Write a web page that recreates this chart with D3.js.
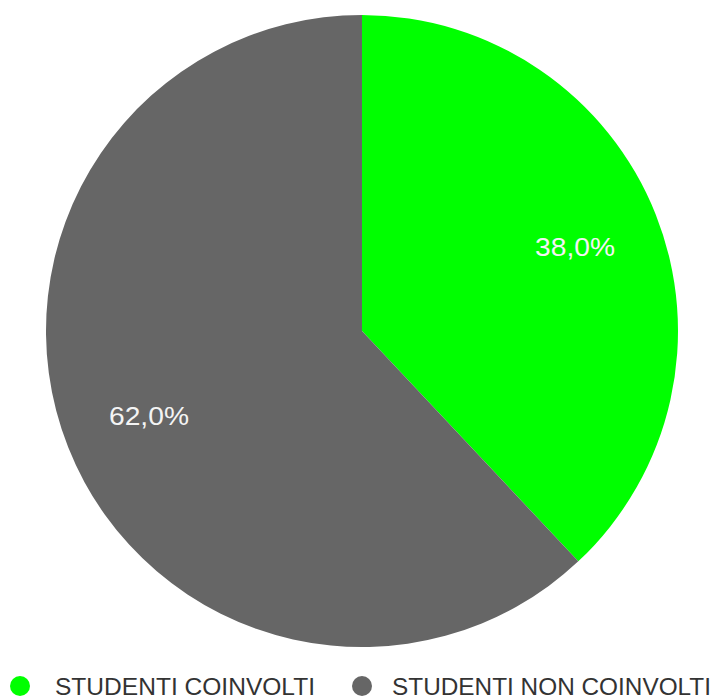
<!DOCTYPE html>
<html>
<head>
<meta charset="utf-8">
<script src="https://cdn.jsdelivr.net/npm/d3@7"></script>
<style>
  html, body { margin: 0; padding: 0; background: #ffffff; }
  svg { display: block; }
</style>
</head>
<body>
<svg id="chart" width="715" height="700"></svg>
<script>
// Share of students involved in the initiative
const categories = ["STUDENTI COINVOLTI", "STUDENTI NON COINVOLTI"];
const values = [38.0, 62.0];
const colors = ["#00ff00", "#666666"];

const svg = d3.select("#chart");
const cx = 362, cy = 331, radius = 316;

const pie = d3.pie().sort(null).value(d => d.value);
const data = categories.map((c, i) => ({ name: c, value: values[i], color: colors[i] }));
const arcs = pie(data);

const arc = d3.arc().innerRadius(0).outerRadius(radius);
const labelArc = d3.arc().innerRadius(radius * 0.725).outerRadius(radius * 0.725);

const g = svg.append("g").attr("transform", `translate(${cx},${cy})`);

g.selectAll("path.slice")
  .data(arcs)
  .join("path")
  .attr("class", "slice")
  .attr("d", arc)
  .attr("fill", d => d.data.color);

const fmt = v => v.toFixed(1).replace(".", ",") + "%";

g.selectAll("text.pct")
  .data(arcs)
  .join("text")
  .attr("class", "pct")
  .attr("transform", d => `translate(${labelArc.centroid(d)})`)
  .attr("text-anchor", "middle")
  .attr("dy", "0.36em")
  .attr("fill", "#f4f4f4")
  .attr("textLength", 80)
  .attr("lengthAdjust", "spacingAndGlyphs")
  .style("font-family", "'Liberation Sans', Arial, sans-serif")
  .style("font-size", "26px")
  .text(d => fmt(d.data.value));

// Legend along the bottom
const legendX = [20, 362];
const legendTextW = [260, 319];
const legend = svg.append("g");
const items = legend.selectAll("g.item")
  .data(data)
  .join("g")
  .attr("class", "item")
  .attr("transform", (d, i) => `translate(${legendX[i]},686)`);

items.append("circle")
  .attr("r", 10)
  .attr("fill", d => d.color);

items.append("text")
  .attr("x", (d, i) => i === 0 ? 35 : 30)
  .attr("dy", "0.36em")
  .attr("fill", "#333333")
  .attr("textLength", (d, i) => legendTextW[i])
  .attr("lengthAdjust", "spacingAndGlyphs")
  .style("font-family", "'Liberation Sans', Arial, sans-serif")
  .style("font-size", "24px")
  .text(d => d.name);
</script>
</body>
</html>
